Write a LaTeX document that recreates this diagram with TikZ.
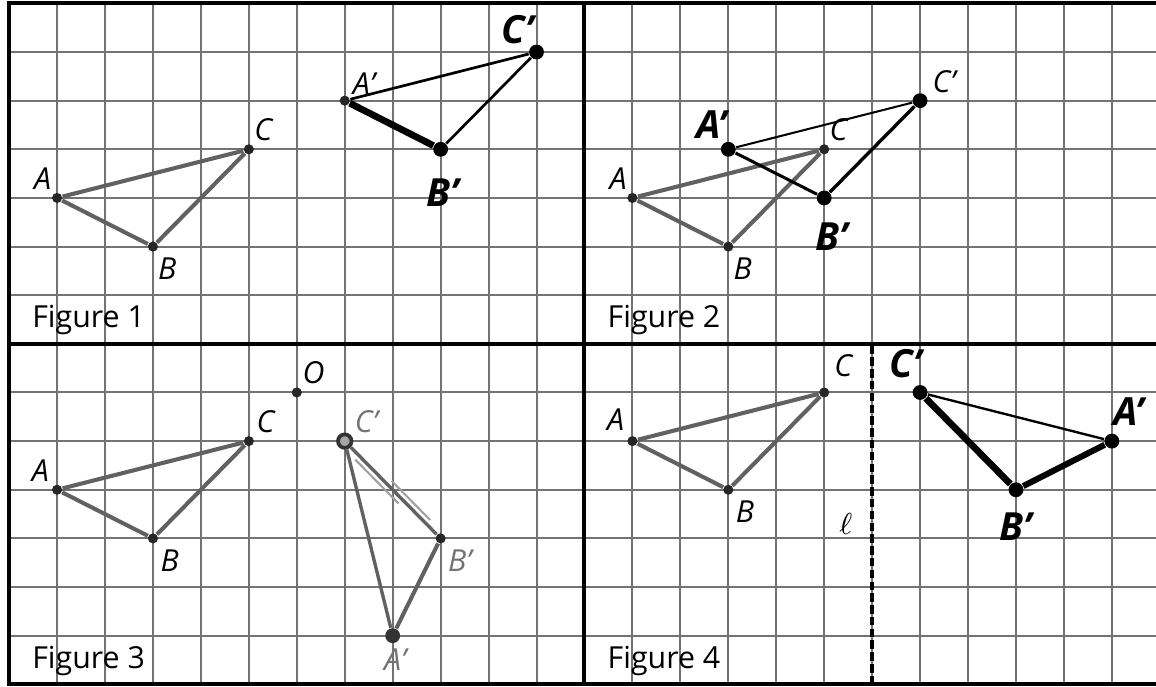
\documentclass[tikz,border=0pt]{standalone}
\usepackage{fontspec}
\setsansfont{Open Sans}
\usetikzlibrary{calc}

\begin{document}
\begin{tikzpicture}[x=0.5cm, y=0.5072cm,
    gridline/.style={draw=black!55, line width=0.6pt},
    frameline/.style={draw=black, line width=1.2pt},
    side/.style={draw=black!62, line width=1.2pt},
    ink/.style={draw=black, line width=0.8pt},
    heavyink/.style={draw=black, line width=2pt},
    pencil/.style={draw=black!62, line width=1pt},
    lightpencil/.style={draw=black!38, line width=0.6pt},
    mirror/.style={draw=black, line width=1pt, dash pattern=on 2.5pt off 1pt},
    dot/.style={circle, fill=black!85, inner sep=0pt, minimum size=3pt},
    blob/.style={circle, fill=black, inner sep=0pt, minimum size=4.4pt},
    ring/.style={circle, draw=black!80, fill=black!35, line width=1.1pt, inner sep=0pt, minimum size=4pt},
    lbl/.style={font=\sffamily\itshape\fontsize{9}{10}\selectfont, inner sep=0pt},
    hand/.style={font=\sffamily\bfseries\itshape\fontsize{11.5}{12}\selectfont, inner sep=0pt},
    faint/.style={font=\sffamily\itshape\fontsize{9}{10}\selectfont, text=black!55, inner sep=0pt},
    caption/.style={font=\sffamily\fontsize{9}{10}\selectfont, inner sep=0pt, anchor=base west}]

    % Page, grid and panel frames
    \path[use as bounding box, fill=white] (-0.19,-0.04) rectangle (23.92,14.07);
    \draw[gridline, step={(1,1)}] (0,0) grid (24,14);
    \draw[frameline] (0,0) rectangle (24,14);
    \draw[frameline] (12,0) -- (12,14);
    \draw[frameline] (0,7) -- (24,7);

    % Figure 1
    \node[dot] (a1) at (1,10) {};
    \node[dot] (b1) at (3,9) {};
    \node[dot] (c1) at (5,11) {};
    \draw[side] (a1) -- (b1) -- (c1) -- (a1);
    \node[dot] (ap1) at (7,12) {};
    \node[blob] (bp1) at (9,11) {};
    \node[blob] (cp1) at (11,13) {};
    \draw[ink] (ap1) -- (cp1);
    \draw[heavyink] (ap1) -- (bp1);
    \draw[ink] (bp1) -- (cp1);
    \node[lbl] (la1) at (0.7,10.4) {A};
    \node[lbl] (lb1) at (3.3,8.55) {B};
    \node[lbl] (lc1) at (5.3,11.4) {C};
    \node[lbl] (lap1) at (7.4,12.35) {A'};
    \node[hand] (lbp1) at (9.05,10.1) {B'};
    \node[hand] (lcp1) at (10.6,13.45) {C'};
    \node[caption] (cap1) at (0.47,7.33) {Figure 1};

    % Figure 2
    \node[dot] (a2) at (13,10) {};
    \node[dot] (b2) at (15,9) {};
    \node[dot] (c2) at (17,11) {};
    \draw[side] (a2) -- (b2) -- (c2) -- (a2);
    \node[blob] (ap2) at (15,11) {};
    \node[blob] (bp2) at (17,10) {};
    \node[blob] (cp2) at (19,12) {};
    \draw[ink, line width=0.6pt] (ap2) -- (cp2);
    \draw[ink, line width=0.9pt] (ap2) -- (bp2);
    \draw[ink, line width=1pt] (bp2) -- (cp2);
    \node[lbl] (la2) at (12.7,10.4) {A};
    \node[lbl] (lb2) at (15.3,8.55) {B};
    \node[lbl] (lc2) at (17.3,11.4) {C};
    \node[hand] (lap2) at (14.65,11.5) {A'};
    \node[hand] (lbp2) at (17.15,9.2) {B'};
    \node[lbl] (lcp2) at (19.5,12.4) {C'};
    \node[caption] (cap2) at (12.47,7.33) {Figure 2};

    % Figure 3
    \node[dot] (o3) at (6,6) {};
    \node[dot] (a3) at (1,4) {};
    \node[dot] (b3) at (3,3) {};
    \node[dot] (c3) at (5,5) {};
    \draw[side] (a3) -- (b3) -- (c3) -- (a3);
    \node[ring] (cp3) at (7,5) {};
    \node[dot] (bp3) at (9,3) {};
    \node[blob, fill=black!80] (ap3) at (8,1) {};
    \draw[pencil] (cp3) -- (ap3);
    \draw[pencil, line width=1.2pt] (ap3) -- (bp3);
    \draw[pencil] (cp3) -- (bp3);
    \coordinate (s1) at ($(cp3)!0.15!(bp3)+(-0.08,-0.08)$);
    \coordinate (s2) at ($(cp3)!0.6!(bp3)+(-0.08,-0.08)$);
    \coordinate (s3) at ($(cp3)!0.45!(bp3)+(0.08,0.08)$);
    \coordinate (s4) at ($(cp3)!0.85!(bp3)+(0.08,0.08)$);
    \draw[lightpencil] (s1) -- (s2);
    \draw[lightpencil] (s3) -- (s4);
    \node[lbl] (lo3) at (6.35,6.4) {O};
    \node[lbl] (la3) at (0.65,4.4) {A};
    \node[lbl] (lb3) at (3.35,2.55) {B};
    \node[lbl] (lc3) at (5.35,5.4) {C};
    \node[faint] (lcp3) at (7.45,5.4) {C'};
    \node[faint] (lbp3) at (9.4,2.55) {B'};
    \node[faint] (lap3) at (8.05,0.5) {A'};
    \node[caption] (cap3) at (0.47,0.33) {Figure 3};

    % Figure 4
    \node[dot] (a4) at (13,5) {};
    \node[dot] (b4) at (15,4) {};
    \node[dot] (c4) at (17,6) {};
    \draw[side] (a4) -- (b4) -- (c4) -- (a4);
    \coordinate (lbot) at (18,0);
    \coordinate (ltop) at (18,7);
    \draw[mirror] (lbot) -- (ltop);
    \node[blob] (cp4) at (19,6) {};
    \node[blob] (bp4) at (21,4) {};
    \node[blob] (ap4) at (23,5) {};
    \draw[ink, line width=0.7pt] (cp4) -- (ap4);
    \draw[heavyink] (cp4) -- (bp4);
    \draw[heavyink, line width=1.8pt] (bp4) -- (ap4);
    \node[lbl] (la4) at (12.65,5.45) {A};
    \node[lbl] (lb4) at (15.35,3.55) {B};
    \node[lbl] (lc4) at (17.4,6.55) {C};
    \node[lbl] (lell) at (17.45,3.3) {$\ell$};
    \node[hand] (lcp4) at (18.7,6.6) {C'};
    \node[hand] (lbp4) at (21,3.25) {B'};
    \node[hand] (lap4) at (23.35,5.6) {A'};
    \node[caption] (cap4) at (12.47,0.33) {Figure 4};
\end{tikzpicture}
\end{document}
